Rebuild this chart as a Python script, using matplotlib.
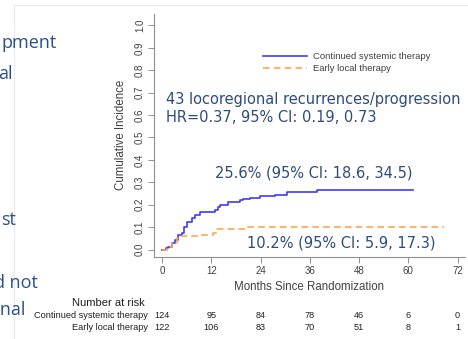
import numpy as np
import matplotlib
matplotlib.use("Agg")
import matplotlib.pyplot as plt
import matplotlib.transforms as mtransforms
from matplotlib.lines import Line2D

# step curves (months, cumulative incidence)
sys_t = [0, 1.0, 1.5, 2.4, 3.2, 3.9, 4.8, 5.4, 6.0, 7.2, 8.0, 9.2, 12.9, 13.6, 14.1,
         16.0, 18.9, 19.7, 21.4, 23.9, 27.5, 30.4, 37.7, 61.1]
sys_y = [0, 0.006, 0.013, 0.028, 0.043, 0.066, 0.075, 0.10, 0.125, 0.14, 0.155, 0.167,
         0.175, 0.19, 0.20, 0.21, 0.22, 0.226, 0.232, 0.237, 0.245, 0.256, 0.265, 0.265]
loc_t = [0, 1.2, 2.4, 3.6, 4.4, 8.8, 12.4, 13.3, 20.6, 68.7]
loc_y = [0, 0.012, 0.028, 0.05, 0.061, 0.065, 0.073, 0.092, 0.102, 0.102]

risk_months = [0, 12, 24, 36, 48, 60, 72]
risk_sys = [124, 95, 84, 78, 46, 6, 0]
risk_loc = [122, 106, 83, 70, 51, 8, 1]
groups = ["Continued systemic therapy", "Early local therapy"]

W, H = 468, 339
fig = plt.figure(figsize=(W / 100, H / 100), dpi=100)

def fx(px):
    return px / W

def fy(py):
    return 1 - py / H

ax = fig.add_axes([fx(154), fy(256.7), fx(465) - fx(154), fy(14) - fy(256.7)])
ax.set_xlim(-1.95, 73.8)
ax.set_ylim(-0.032, 1.051)

blue = "#3b3bff"
orange = "#ffa54a"
navy = "#2f4b7c"
gray = "#404040"

ax.step(sys_t, sys_y, where="post", color=blue, lw=1.2)
ax.step(loc_t, loc_y, where="post", color=orange, lw=1.2, ls=(0, (4, 2.5)))

for s in ["top", "right"]:
    ax.spines[s].set_visible(False)
for s in ["left", "bottom"]:
    ax.spines[s].set_color("#909090")
    ax.spines[s].set_linewidth(0.8)

ax.set_xticks(risk_months)
ax.set_yticks(np.arange(0, 1.01, 0.1))
ax.set_yticklabels([f"{v:.1f}" for v in np.arange(0, 1.01, 0.1)], rotation=90, va="center")
ax.tick_params(colors="#909090", labelcolor=gray, labelsize=7, length=4, width=0.7, pad=2.5)
for lab in ax.get_xticklabels() + ax.get_yticklabels():
    lab.set_family("Liberation Sans")

ax.set_xlabel("Months Since Randomization", fontsize=8.3, color=gray,
              family="Liberation Sans", labelpad=4)
ax.set_ylabel("Cumulative Incidence", fontsize=8.3, color=gray,
              family="Liberation Sans", labelpad=6)

handles = [Line2D([], [], color=blue, lw=1.2),
           Line2D([], [], color=orange, lw=1.2, ls=(0, (4, 2.5)))]
ax.legend(handles, groups, loc="upper left", bbox_to_anchor=(0.3505, 0.843),
          borderaxespad=0, borderpad=0,
          frameon=False, prop={"family": "Liberation Sans", "size": 6.8},
          labelcolor=gray, handlelength=4.66, handletextpad=0.64, labelspacing=0.3)

tf = dict(color=navy, family="DejaVu Sans", fontsize=10.5)
fig.text(fx(166), fy(100), "43 locoregional recurrences/progression", va="center", **tf)
fig.text(fx(166), fy(117), "HR=0.37, 95% CI: 0.19, 0.73", va="center", **tf)
fig.text(fx(215), fy(173), "25.6% (95% CI: 18.6, 34.5)", va="center", **tf)
fig.text(fx(247), fy(243), "10.2% (95% CI: 5.9, 17.3)", va="center", **tf)

# number at risk table
tr = mtransforms.blended_transform_factory(ax.transData, fig.transFigure)
rk = dict(family="Liberation Sans", fontsize=6.6, color="#202020", va="center")
fig.text(fx(108), fy(303), "Number at risk", ha="center", family="Liberation Sans",
         fontsize=8, color="#202020", va="center")
for row_y, name, counts in [(315, groups[0], risk_sys), (327, groups[1], risk_loc)]:
    fig.text(fx(148), fy(row_y), name, ha="right", **rk)
    for m, c in zip(risk_months, counts):
        ax.text(m, fy(row_y), str(c), ha="center", transform=tr, **rk)

# slide background fragments
sf = dict(color="#2a4f8c", family="Open Sans", fontsize=13, ha="right", va="center")
fig.text(fx(57), fy(43), "pment", **sf)
fig.text(fx(13), fy(74), "al", **sf)
fig.text(fx(16), fy(220), "st", **sf)
fig.text(fx(38), fy(283), "d not", **sf)
fig.text(fx(25), fy(310), "onal", **sf)
fig.add_artist(Line2D([fx(14), fx(14)], [fy(6), 0], color="#e6eaee", lw=0.8))
fig.add_artist(Line2D([fx(14), 1], [fy(5), fy(5)], color="#e6eaee", lw=0.8))

fig.savefig("out.png", dpi=100)
